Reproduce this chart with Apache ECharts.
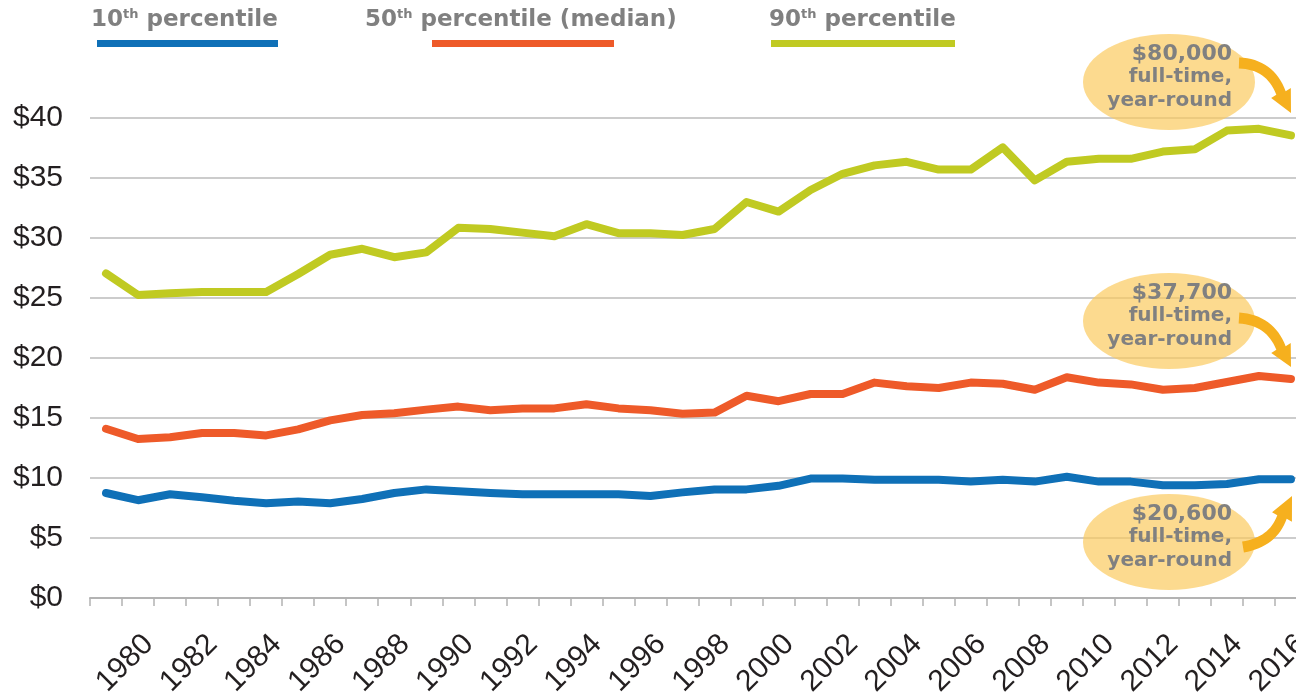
<!DOCTYPE html>
<html>
<head>
<meta charset="utf-8">
<script src="https://cdn.jsdelivr.net/npm/echarts@6/dist/echarts.min.js"></script>
<style>
html,body{margin:0;padding:0;background:#fff;}
#chart{width:1296px;height:692px;}
</style>
</head>
<body>
<div id="chart"></div>
<script>
// ---- data ----
const years = ['1979','1980','1981','1982','1983','1984','1985','1986','1987','1988','1989','1990','1991','1992','1993','1994','1995','1996','1997','1998','1999','2000','2001','2002','2003','2004','2005','2006','2007','2008','2009','2010','2011','2012','2013','2014','2015','2016'];
const p10 = [8.75,8.15,8.65,8.4,8.1,7.9,8.05,7.9,8.25,8.75,9.05,8.9,8.75,8.65,8.65,8.65,8.65,8.5,8.8,9.05,9.05,9.35,9.95,9.95,9.85,9.85,9.85,9.7,9.85,9.7,10.1,9.7,9.7,9.4,9.4,9.5,9.9,9.9];
const p50 = [14.1,13.25,13.4,13.75,13.75,13.55,14.05,14.8,15.25,15.4,15.7,15.95,15.65,15.8,15.8,16.15,15.8,15.65,15.35,15.45,16.85,16.4,17.0,17.0,17.95,17.65,17.5,17.95,17.85,17.35,18.4,17.95,17.8,17.35,17.5,18.0,18.5,18.25];
const p90 = [27.05,25.25,25.4,25.5,25.5,25.5,27.0,28.6,29.1,28.4,28.8,30.85,30.75,30.45,30.15,31.15,30.4,30.4,30.25,30.75,33.0,32.2,34.0,35.35,36.05,36.35,35.7,35.7,37.55,34.8,36.35,36.6,36.6,37.2,37.4,38.95,39.1,38.55];
const seriesNames = ['10th percentile','50th percentile (median)','90th percentile'];
const yTicks = [0,5,10,15,20,25,30,35,40];
const callouts = [
  {amount:'$80,000', l1:'full-time,', l2:'year-round'},
  {amount:'$37,700', l1:'full-time,', l2:'year-round'},
  {amount:'$20,600', l1:'full-time,', l2:'year-round'}
];

const C_BLUE = '#0f70b7', C_ORANGE = '#ee5a29', C_GREEN = '#c0ca22';
const GRAY = '#808080';
const BOLD_FONT = '"DejaVu Sans", "Liberation Sans", Arial';

// arrow polygon helper (decoration geometry)
function arrowPoly(p0, c, p2, tip, w0, w1, headW) {
  const left = [], right = [];
  const N = 16;
  for (let i = 0; i <= N; i++) {
    const t = i / N;
    const x = (1-t)*(1-t)*p0[0] + 2*(1-t)*t*c[0] + t*t*p2[0];
    const y = (1-t)*(1-t)*p0[1] + 2*(1-t)*t*c[1] + t*t*p2[1];
    const dx = 2*(1-t)*(c[0]-p0[0]) + 2*t*(p2[0]-c[0]);
    const dy = 2*(1-t)*(c[1]-p0[1]) + 2*t*(p2[1]-c[1]);
    const L = Math.hypot(dx, dy);
    const nx = -dy/L, ny = dx/L;
    const w = (w0 + (w1-w0)*t)/2;
    left.push([x+nx*w, y+ny*w]);
    right.push([x-nx*w, y-ny*w]);
  }
  const dx = tip[0]-p2[0], dy = tip[1]-p2[1];
  const L = Math.hypot(dx, dy);
  const nx = -dy/L, ny = dx/L;
  const h = headW/2;
  const head = [[p2[0]+nx*h, p2[1]+ny*h], tip, [p2[0]-nx*h, p2[1]-ny*h]];
  return left.concat(head).concat(right.reverse());
}

const chart = echarts.init(document.getElementById('chart'));

const graphics = [];
// legend
const legendItems = [
  {num:'10', rest:' percentile', x:91, bx:97, bw:181, color:C_BLUE},
  {num:'50', rest:' percentile (median)', x:365, bx:432, bw:182, color:C_ORANGE},
  {num:'90', rest:' percentile', x:769, bx:771, bw:184, color:C_GREEN}
];
legendItems.forEach(it => {
  graphics.push({
    type:'text', left: it.x, top: 8, z: 10,
    style:{
      text:'{n|' + it.num + '}{s|th}{n|' + it.rest + '}',
      rich:{
        n:{fontFamily:BOLD_FONT, fontWeight:'bold', fontSize:23, fill:GRAY},
        s:{fontFamily:BOLD_FONT, fontWeight:'bold', fontSize:13, fill:GRAY, padding:[0,0,12,0]}
      }
    }
  });
  graphics.push({type:'rect', shape:{x:it.bx, y:40, width:it.bw, height:7}, style:{fill:it.color}, z:10});
});

// callouts
const calloutPos = [82, 321, 542];
calloutPos.forEach((cy, i) => {
  graphics.push({type:'ellipse', shape:{cx:1169, cy:cy, rx:86, ry:48}, style:{fill:'rgba(250,200,90,0.68)'}, z:20});
  graphics.push({type:'text', x:1232, y:cy-28, z:21, style:{text:callouts[i].amount, textAlign:'right', textVerticalAlign:'middle', font:'bold 22px ' + BOLD_FONT, fill:GRAY}});
  graphics.push({type:'text', x:1232, y:cy-5, z:21, style:{text:callouts[i].l1, textAlign:'right', textVerticalAlign:'middle', font:'bold 20px ' + BOLD_FONT, fill:GRAY}});
  graphics.push({type:'text', x:1232, y:cy+19, z:21, style:{text:callouts[i].l2, textAlign:'right', textVerticalAlign:'middle', font:'bold 20px ' + BOLD_FONT, fill:GRAY}});
});
// arrows
const ARROW = '#f6b01e';
graphics.push({type:'polygon', z:22, shape:{points: arrowPoly([1239,63],[1270,64],[1281,93],[1291,113],11,10,22)}, style:{fill:ARROW}});
graphics.push({type:'polygon', z:22, shape:{points: arrowPoly([1239,318],[1270,320],[1281,348],[1291,367],11,10,22)}, style:{fill:ARROW}});
graphics.push({type:'polygon', z:22, shape:{points: arrowPoly([1243,547],[1273,542],[1282,517],[1292,496],11,10,22)}, style:{fill:ARROW}});

const option = {
  animation:false,
  backgroundColor:'#ffffff',
  grid:{left:90, right:-11, top:118, bottom:94, containLabel:false, outerBoundsMode:'none'},
  xAxis:{
    type:'category', data:years, boundaryGap:true,
    axisLine:{show:true, lineStyle:{color:'#b3b3b3', width:2}},
    axisTick:{show:true, interval:0, length:8, inside:false, lineStyle:{color:'#b3b3b3', width:1.5}},
    axisLabel:{
      interval:(idx, val) => parseInt(val) % 2 === 0,
      rotate:45, margin:31, verticalAlign:'top', fontSize:30, color:'#231f20', fontFamily:'Liberation Sans, Arial',
      hideOverlap:false
    },
    splitLine:{show:false}
  },
  yAxis:{
    type:'value', min:yTicks[0], max:yTicks[yTicks.length-1], interval:5,
    axisLine:{show:false}, axisTick:{show:false},
    axisLabel:{formatter:v => '$' + v, fontSize:30, color:'#231f20', margin:27, fontFamily:'Liberation Sans, Arial'},
    splitLine:{show:true, lineStyle:{color:'#cccccc', width:2}}
  },
  series:[
    {name:seriesNames[0], type:'line', data:p10, showSymbol:false, symbol:'none', lineStyle:{color:C_BLUE, width:8, join:'round', cap:'round'}, z:5},
    {name:seriesNames[1], type:'line', data:p50, showSymbol:false, symbol:'none', lineStyle:{color:C_ORANGE, width:8, join:'round', cap:'round'}, z:5},
    {name:seriesNames[2], type:'line', data:p90, showSymbol:false, symbol:'none', lineStyle:{color:C_GREEN, width:8, join:'round', cap:'round'}, z:5}
  ],
  graphic:{elements:graphics}
};
chart.setOption(option);
</script>
</body>
</html>
